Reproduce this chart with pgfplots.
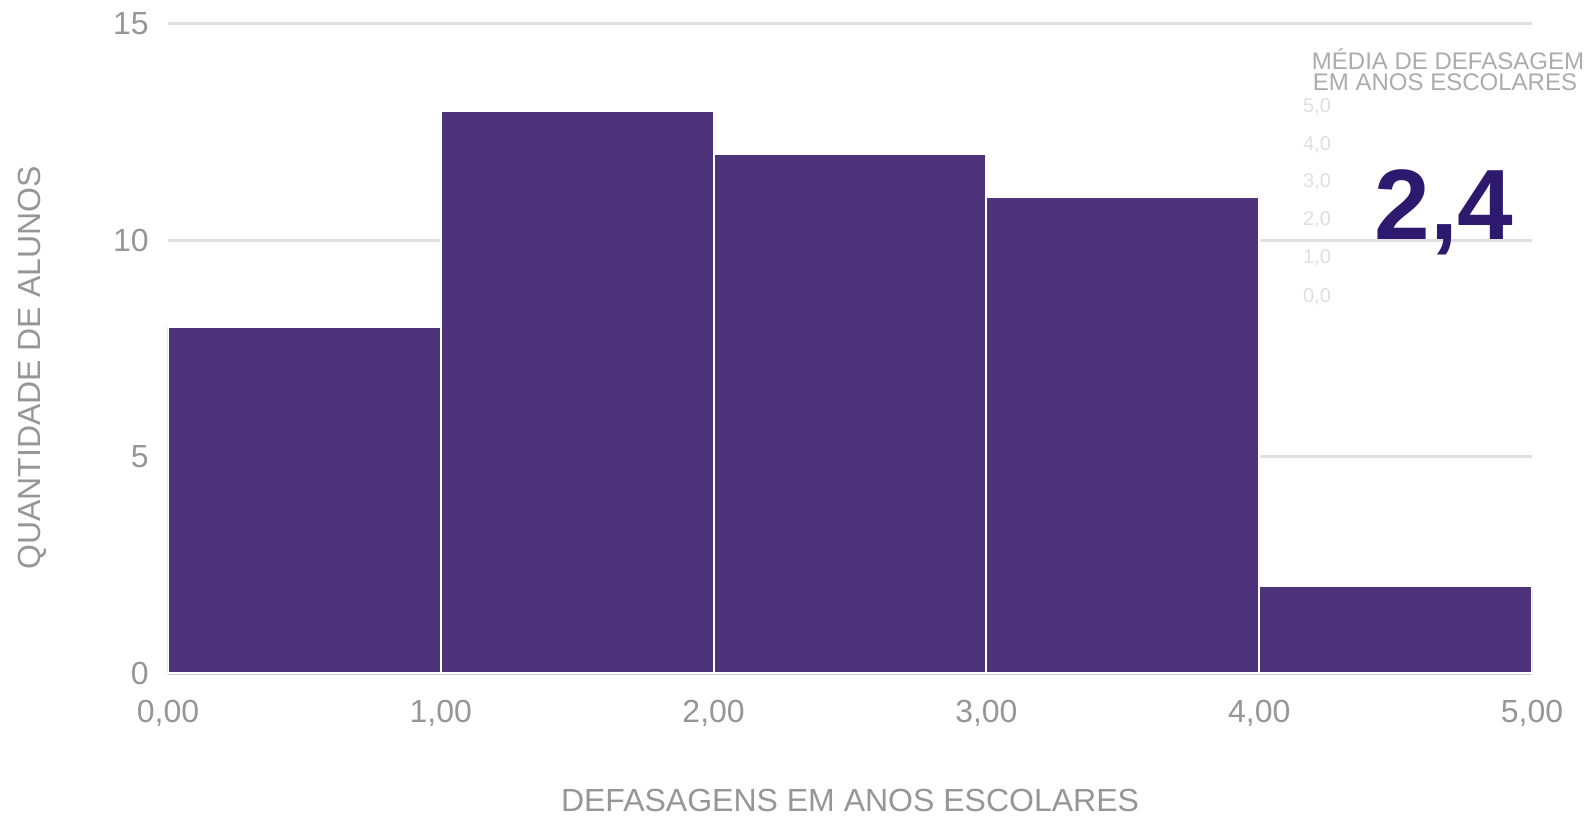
\documentclass[border=0pt]{standalone}
\usepackage{pgfplots}
\pgfplotsset{compat=1.18}
\usepackage{fontspec}
\setmainfont{Liberation Sans}

\definecolor{barcol}{RGB}{79,51,122}
\definecolor{bigcol}{RGB}{45,25,110}
\definecolor{txtgray}{RGB}{150,150,150}
\definecolor{gridgray}{RGB}{224,224,224}
\definecolor{faint}{RGB}{222,222,222}

\begin{document}
\begin{tikzpicture}
  \path[use as bounding box] (-84pt,-75.5pt) rectangle (713.5pt,336.5pt);
  \begin{axis}[
      at={(0,0)}, anchor=south west,
      scale only axis,
      width=682pt, height=324.5pt,
      xmin=0, xmax=5, ymin=0, ymax=15,
      xtick={0,1,2,3,4,5},
      ytick={0,5,10,15},
      ymajorgrids,
      grid style={gridgray, line width=1.5pt},
      axis x line=bottom, axis y line=left,
      axis line style={-},
      x axis line style={draw=gray!40, line width=1.5pt},
      y axis line style={draw=none},
      tick style={draw=none},
      /pgf/number format/assume math mode=true,
      ticklabel style={font=\fontsize{16}{19}\selectfont, text=txtgray},
      xticklabel style={/pgf/number format/fixed, /pgf/number format/fixed zerofill,
        /pgf/number format/precision=2, /pgf/number format/use comma, yshift=-8pt},
      yticklabel style={xshift=-4pt},
      xlabel={DEFASAGENS EM ANOS ESCOLARES},
      ylabel={QUANTIDADE DE ALUNOS},
      label style={font=\fontsize{16}{19}\selectfont, text=txtgray},
      xlabel style={at={(axis description cs:0.5,0)}, anchor=center, yshift=-63.5pt},
      ylabel style={at={(axis description cs:0,0.47)}, anchor=center, yshift=68pt},
    ]
    \addplot[ybar interval, fill=barcol, draw=white, line width=1pt]
      coordinates {(0,8) (1,13) (2,12) (3,11) (4,2) (5,2)};
  \end{axis}
  % inset: mean value
  \node[font=\fontsize{12}{14}\selectfont, text=txtgray!80] at (640pt,307pt) {MÉDIA DE DEFASAGEM};
  \node[font=\fontsize{12}{14}\selectfont, text=txtgray!80] at (638.5pt,295.5pt) {EM ANOS ESCOLARES};
  \node[font=\fontsize{10}{12}\selectfont, text=faint] at (574.5pt,283pt) {5,0};
  \node[font=\fontsize{10}{12}\selectfont, text=faint] at (574.5pt,264pt) {4,0};
  \node[font=\fontsize{10}{12}\selectfont, text=faint] at (574.5pt,245.5pt) {3,0};
  \node[font=\fontsize{10}{12}\selectfont, text=faint] at (574.5pt,226.5pt) {2,0};
  \node[font=\fontsize{10}{12}\selectfont, text=faint] at (574.5pt,207.5pt) {1,0};
  \node[font=\fontsize{10}{12}\selectfont, text=faint] at (574.5pt,188pt) {0,0};
  \node[font=\bfseries\fontsize{50}{60}\selectfont, text=bigcol, anchor=base] at (638pt,216.5pt) {2,4};
\end{tikzpicture}
\end{document}
